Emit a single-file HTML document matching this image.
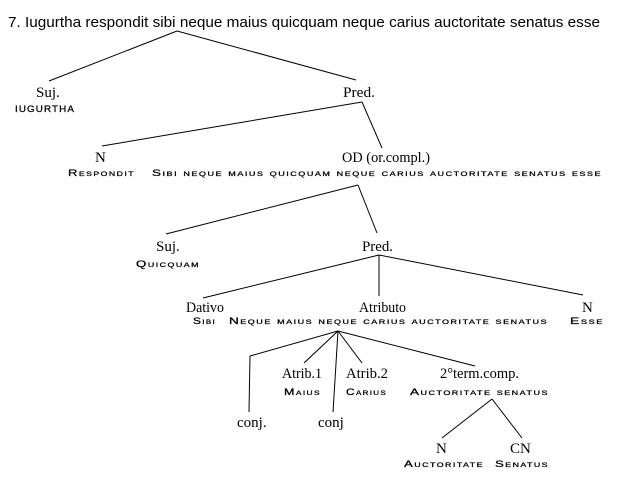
<!DOCTYPE html>
<html><head><meta charset="utf-8"><style>
html,body{margin:0;padding:0;background:#fff;}
svg{display:block;}
.t{font-family:"Liberation Sans",sans-serif;font-size:15px;fill:#000;}
.s{font-family:"Liberation Serif",serif;font-size:15px;fill:#000;}
.c{font-family:"Liberation Sans",sans-serif;font-size:9px;font-variant:small-caps;fill:#000;stroke:#000;stroke-width:0.25;letter-spacing:1px;}
line{stroke:#000;stroke-width:1;}
</style></head><body>
<svg width="617" height="479" viewBox="0 0 617 479" xmlns="http://www.w3.org/2000/svg">
<text class="t" x="8" y="27" textLength="592" lengthAdjust="spacingAndGlyphs">7. Iugurtha respondit sibi neque maius quicquam neque carius auctoritate senatus esse</text>
<line x1="177" y1="31" x2="49" y2="81"/>
<line x1="177" y1="31" x2="356" y2="80"/>
<text class="s" x="36" y="97">Suj.</text>
<text class="c" x="15" y="112" textLength="60" lengthAdjust="spacingAndGlyphs">IUGURTHA</text>
<text class="s" x="343" y="97" textLength="32" lengthAdjust="spacingAndGlyphs">Pred.</text>
<line x1="362" y1="102" x2="102" y2="146"/>
<line x1="362" y1="102" x2="382" y2="148"/>
<text class="s" x="95" y="162">N</text>
<text class="s" x="342" y="162" textLength="88" lengthAdjust="spacingAndGlyphs">OD (or.compl.)</text>
<text class="c" x="68" y="176" textLength="67" lengthAdjust="spacingAndGlyphs">Respondit</text>
<text class="c" x="152" y="176" textLength="450" lengthAdjust="spacingAndGlyphs">Sibi neque maius quicquam neque carius auctoritate senatus esse</text>
<line x1="358" y1="185" x2="166" y2="234"/>
<line x1="358" y1="185" x2="377" y2="233"/>
<text class="s" x="156" y="251">Suj.</text>
<text class="c" x="136" y="267" textLength="64" lengthAdjust="spacingAndGlyphs">Quicquam</text>
<text class="s" x="362" y="251" textLength="31" lengthAdjust="spacingAndGlyphs">Pred.</text>
<line x1="379" y1="255" x2="203" y2="298"/>
<line x1="379" y1="255" x2="379" y2="296"/>
<line x1="379" y1="255" x2="583" y2="295"/>
<text class="s" x="186" y="312" textLength="38" lengthAdjust="spacingAndGlyphs">Dativo</text>
<text class="s" x="359" y="312" textLength="47" lengthAdjust="spacingAndGlyphs">Atributo</text>
<text class="s" x="582" y="312">N</text>
<text class="c" x="193" y="324" textLength="23" lengthAdjust="spacingAndGlyphs">Sibi</text>
<text class="c" x="229" y="324" textLength="319" lengthAdjust="spacingAndGlyphs">Neque maius neque carius auctoritate senatus</text>
<text class="c" x="570" y="324" textLength="34" lengthAdjust="spacingAndGlyphs">Esse</text>
<line x1="338" y1="331" x2="250" y2="356"/>
<line x1="250" y1="356" x2="249" y2="412"/>
<line x1="338" y1="331" x2="304" y2="363"/>
<line x1="338" y1="331" x2="333" y2="412"/>
<line x1="338" y1="331" x2="362" y2="363"/>
<line x1="338" y1="331" x2="475" y2="366"/>
<text class="s" x="282" y="378" textLength="40" lengthAdjust="spacingAndGlyphs">Atrib.1</text>
<text class="s" x="346" y="378" textLength="42" lengthAdjust="spacingAndGlyphs">Atrib.2</text>
<text class="s" x="440" y="378" textLength="79" lengthAdjust="spacingAndGlyphs">2°term.comp.</text>
<text class="c" x="284" y="395" textLength="37" lengthAdjust="spacingAndGlyphs">Maius</text>
<text class="c" x="346" y="395" textLength="41" lengthAdjust="spacingAndGlyphs">Carius</text>
<text class="c" x="410" y="395" textLength="139" lengthAdjust="spacingAndGlyphs">Auctoritate senatus</text>
<text class="s" x="237" y="427">conj.</text>
<text class="s" x="318" y="427">conj</text>
<line x1="492" y1="399" x2="442" y2="438"/>
<line x1="492" y1="399" x2="522" y2="438"/>
<text class="s" x="436" y="453">N</text>
<text class="s" x="510" y="453">CN</text>
<text class="c" x="404" y="467" textLength="80" lengthAdjust="spacingAndGlyphs">Auctoritate</text>
<text class="c" x="495" y="467" textLength="54" lengthAdjust="spacingAndGlyphs">Senatus</text>
</svg>
</body></html>
